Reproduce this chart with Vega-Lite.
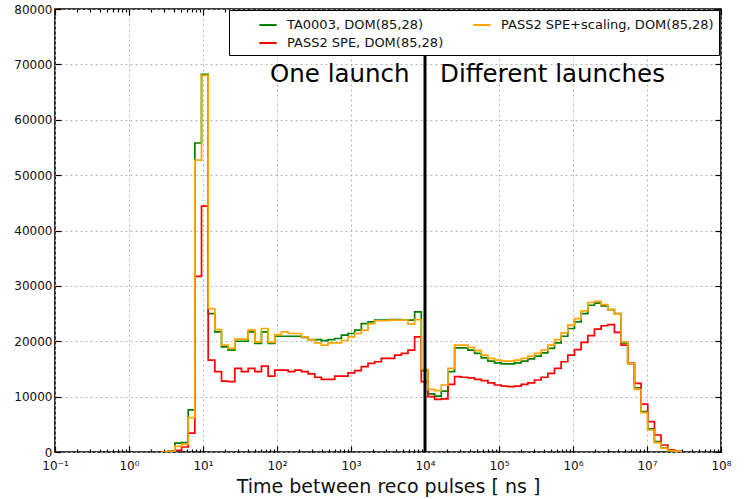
{
  "$schema": "https://vega.github.io/schema/vega-lite/v6.json",
  "width": 666,
  "height": 443,
  "autosize": {"type": "none"},
  "padding": {"left": 55, "top": 9, "right": 34, "bottom": 47},
  "background": "white",
  "config": {
    "view": {"stroke": "black", "strokeWidth": 1.6},
    "font": "DejaVu Sans",
    "axis": {"domain": false, "labelFont": "DejaVu Sans", "labelColor": "#111", "tickColor": "black", "tickWidth": 1.2, "gridColor": "#b5b5b5", "gridDash": [2, 3], "gridWidth": 1}
  },
  "datasets": {
    "h": [
      {"e": 2.754, "g": 0, "o": 0, "r": 0},
      {"e": 3.388, "g": 150, "o": 100, "r": 50},
      {"e": 4.169, "g": 1600, "o": 1000, "r": 300},
      {"e": 5.129, "g": 1700, "o": 1400, "r": 900},
      {"e": 6.310, "g": 7600, "o": 6200, "r": 3400},
      {"e": 7.762, "g": 55800, "o": 52700, "r": 31700},
      {"e": 9.550, "g": 68200, "o": 68000, "r": 44400},
      {"e": 11.75, "g": 25000, "o": 25900, "r": 16600},
      {"e": 14.45, "g": 21700, "o": 22100, "r": 14500},
      {"e": 17.78, "g": 19000, "o": 19300, "r": 12800},
      {"e": 21.88, "g": 18400, "o": 18700, "r": 12700},
      {"e": 26.92, "g": 20000, "o": 20400, "r": 15100},
      {"e": 33.11, "g": 20000, "o": 20400, "r": 14500},
      {"e": 40.74, "g": 21700, "o": 22000, "r": 15100},
      {"e": 50.12, "g": 19600, "o": 19900, "r": 14500},
      {"e": 61.66, "g": 21700, "o": 22300, "r": 15500},
      {"e": 75.86, "g": 19600, "o": 19800, "r": 13700},
      {"e": 93.33, "g": 20900, "o": 21200, "r": 14800},
      {"e": 114.8, "g": 20900, "o": 21700, "r": 14800},
      {"e": 141.3, "g": 20900, "o": 21400, "r": 14500},
      {"e": 173.8, "g": 20900, "o": 21400, "r": 14800},
      {"e": 213.8, "g": 20700, "o": 20800, "r": 14500},
      {"e": 263.0, "g": 20300, "o": 20300, "r": 14100},
      {"e": 323.6, "g": 20300, "o": 19700, "r": 13500},
      {"e": 398.1, "g": 20100, "o": 19300, "r": 13100},
      {"e": 489.8, "g": 20300, "o": 19700, "r": 13100},
      {"e": 602.6, "g": 20500, "o": 19700, "r": 13700},
      {"e": 741.3, "g": 21100, "o": 20100, "r": 13700},
      {"e": 912.0, "g": 21400, "o": 20800, "r": 14300},
      {"e": 1122, "g": 22000, "o": 21400, "r": 14700},
      {"e": 1380, "g": 23200, "o": 22000, "r": 15400},
      {"e": 1698, "g": 23500, "o": 23200, "r": 16000},
      {"e": 2089, "g": 23800, "o": 23700, "r": 16300},
      {"e": 2570, "g": 23800, "o": 23700, "r": 16900},
      {"e": 3162, "g": 23900, "o": 23800, "r": 16900},
      {"e": 3890, "g": 23900, "o": 23800, "r": 17500},
      {"e": 4786, "g": 23800, "o": 23800, "r": 17800},
      {"e": 5888, "g": 23800, "o": 23100, "r": 18400},
      {"e": 7244, "g": 25300, "o": 23900, "r": 20800},
      {"e": 8913, "g": 14700, "o": 14900, "r": 12700},
      {"e": 10965, "g": 10500, "o": 11300, "r": 10000},
      {"e": 13490, "g": 10100, "o": 11100, "r": 9500},
      {"e": 16596, "g": 11000, "o": 12100, "r": 9600},
      {"e": 20417, "g": 14500, "o": 15100, "r": 12200},
      {"e": 25119, "g": 18800, "o": 19300, "r": 13600},
      {"e": 30903, "g": 18800, "o": 19300, "r": 13500},
      {"e": 38019, "g": 18400, "o": 18900, "r": 13400},
      {"e": 46774, "g": 17800, "o": 18300, "r": 13100},
      {"e": 57544, "g": 17000, "o": 17500, "r": 12900},
      {"e": 70795, "g": 16400, "o": 16900, "r": 12500},
      {"e": 87096, "g": 16100, "o": 16600, "r": 12100},
      {"e": 107152, "g": 15900, "o": 16400, "r": 11900},
      {"e": 131826, "g": 15900, "o": 16400, "r": 11800},
      {"e": 162181, "g": 16100, "o": 16600, "r": 11900},
      {"e": 199526, "g": 16400, "o": 16900, "r": 12200},
      {"e": 245471, "g": 16800, "o": 17300, "r": 12500},
      {"e": 301995, "g": 17300, "o": 17800, "r": 13000},
      {"e": 371535, "g": 17900, "o": 18400, "r": 13500},
      {"e": 457088, "g": 18700, "o": 19300, "r": 14200},
      {"e": 562341, "g": 19700, "o": 20300, "r": 15100},
      {"e": 691831, "g": 20900, "o": 21500, "r": 16300},
      {"e": 851138, "g": 22300, "o": 22900, "r": 17500},
      {"e": 1047129, "g": 23500, "o": 24100, "r": 18500},
      {"e": 1288250, "g": 25000, "o": 25500, "r": 19800},
      {"e": 1584893, "g": 26500, "o": 27000, "r": 21000},
      {"e": 1949845, "g": 26900, "o": 27200, "r": 22200},
      {"e": 2398833, "g": 26400, "o": 26600, "r": 22800},
      {"e": 2951209, "g": 25700, "o": 25700, "r": 23000},
      {"e": 3630781, "g": 25000, "o": 25000, "r": 21600},
      {"e": 4466836, "g": 19700, "o": 19900, "r": 19300},
      {"e": 5495409, "g": 16000, "o": 16000, "r": 16000},
      {"e": 6760830, "g": 11600, "o": 11300, "r": 12400},
      {"e": 8317638, "g": 7300, "o": 7100, "r": 8660},
      {"e": 10232930, "g": 4200, "o": 4000, "r": 5470},
      {"e": 12589254, "g": 1900, "o": 1700, "r": 3070},
      {"e": 15488166, "g": 750, "o": 700, "r": 1260},
      {"e": 19054607, "g": 250, "o": 250, "r": 400},
      {"e": 23442288, "g": 60, "o": 60, "r": 120},
      {"e": 28840315, "g": 0, "o": 0, "r": 0}
    ],
    "marks": [
      {"t": "One launch", "x": 80.4, "y": 68000},
      {"t": "Different launches", "x": 15960, "y": 68000}
    ],
    "split": [{"x": 10000}]
  },
  "resolve": {"axis": {"x": "independent", "y": "independent"}},
  "layer": [
    {
      "data": {"name": "h"},
      "transform": [{"fold": ["g", "o", "r"], "as": ["s", "v"]}, {"filter": "datum.s == 'g'"}],
      "mark": {"type": "line", "interpolate": "step-after", "strokeWidth": 1.7, "clip": true},
      "encoding": {
        "x": {"field": "e", "type": "quantitative", "scale": {"type": "log", "domain": [0.1, 100000000], "nice": false},
          "axis": {"orient": "bottom", "values": [0.1, 1, 10, 100, 1000, 10000, 100000, 1000000, 10000000, 100000000],
            "labelExpr": "'10' + ['⁻¹','⁰','¹','²','³','⁴','⁵','⁶','⁷','⁸'][round(log(datum.value)/LN10) + 1]",
            "tickSize": -6, "labelPadding": 14, "labelFontSize": 12, "grid": true, "labelFlush": false,
            "title": "Time between reco pulses [ ns ]", "titleFontSize": 19, "titleFontWeight": "normal", "titlePadding": 6, "titleColor": "#111"}},
        "y": {"field": "v", "type": "quantitative", "scale": {"domain": [0, 80000], "nice": false},
          "axis": {"orient": "left", "values": [0, 10000, 20000, 30000, 40000, 50000, 60000, 70000, 80000], "format": "d",
            "tickSize": -6, "labelPadding": 9, "labelFontSize": 12, "grid": true, "title": null}},
        "color": {"field": "s", "type": "nominal",
          "scale": {"domain": ["g", "r", "o"], "range": ["#008000", "#ff0000", "#ffa500"]},
          "legend": {"orient": "none", "legendX": 174, "legendY": 1, "columns": 2, "title": null,
            "labelExpr": "datum.label == 'g' ? 'TA0003, DOM(85,28)' : datum.label == 'o' ? 'PASS2 SPE+scaling, DOM(85,28)' : 'PASS2 SPE, DOM(85,28)'",
            "symbolType": "stroke", "symbolStrokeWidth": 2, "symbolSize": 300, "symbolOffset": 24, "labelFontSize": 13, "labelColor": "#111", "labelLimit": 400,
            "strokeColor": "black", "fillColor": "white", "padding": 5, "columnPadding": 4, "rowPadding": 1, "labelOffset": 9, "cornerRadius": 0}}
      }
    },
    {
      "data": {"name": "h"},
      "transform": [{"fold": ["g", "o", "r"], "as": ["s", "v"]}, {"filter": "datum.s == 'r'"}],
      "mark": {"type": "line", "interpolate": "step-after", "strokeWidth": 1.7, "clip": true},
      "encoding": {
        "x": {"field": "e", "type": "quantitative",
          "axis": {"orient": "top", "values": [0.1, 1, 10, 100, 1000, 10000, 100000, 1000000, 10000000, 100000000], "labels": false, "tickSize": -6, "grid": false, "title": null}},
        "y": {"field": "v", "type": "quantitative",
          "axis": {"orient": "right", "values": [0, 10000, 20000, 30000, 40000, 50000, 60000, 70000, 80000], "labels": false, "tickSize": -6, "grid": false, "title": null}},
        "color": {"field": "s", "type": "nominal"}
      }
    },
    {
      "data": {"name": "h"},
      "transform": [{"fold": ["g", "o", "r"], "as": ["s", "v"]}, {"filter": "datum.s == 'o'"}],
      "mark": {"type": "line", "interpolate": "step-after", "strokeWidth": 1.7, "clip": true},
      "encoding": {
        "x": {"field": "e", "type": "quantitative",
          "axis": {"orient": "bottom", "values": [0.2,0.3,0.4,0.5,0.6,0.7,0.8,0.9,2,3,4,5,6,7,8,9,20,30,40,50,60,70,80,90,200,300,400,500,600,700,800,900,2000,3000,4000,5000,6000,7000,8000,9000,20000,30000,40000,50000,60000,70000,80000,90000,200000,300000,400000,500000,600000,700000,800000,900000,2000000,3000000,4000000,5000000,6000000,7000000,8000000,9000000,20000000,30000000,40000000,50000000,60000000,70000000,80000000,90000000],
            "labels": false, "tickSize": -3, "grid": false, "title": null}},
        "y": {"field": "v", "type": "quantitative", "axis": null},
        "color": {"field": "s", "type": "nominal"}
      }
    },
    {
      "data": {"name": "split"},
      "mark": {"type": "rule", "color": "black", "strokeWidth": 3},
      "encoding": {
        "x": {"field": "x", "type": "quantitative",
          "axis": {"orient": "top", "values": [0.2,0.3,0.4,0.5,0.6,0.7,0.8,0.9,2,3,4,5,6,7,8,9,20,30,40,50,60,70,80,90,200,300,400,500,600,700,800,900,2000,3000,4000,5000,6000,7000,8000,9000,20000,30000,40000,50000,60000,70000,80000,90000,200000,300000,400000,500000,600000,700000,800000,900000,2000000,3000000,4000000,5000000,6000000,7000000,8000000,9000000,20000000,30000000,40000000,50000000,60000000,70000000,80000000,90000000],
            "labels": false, "tickSize": -3, "grid": false, "title": null}}
      }
    },
    {
      "data": {"name": "marks"},
      "mark": {"type": "text", "align": "left", "baseline": "middle", "fontSize": 24.5, "font": "DejaVu Sans", "color": "black"},
      "encoding": {
        "x": {"field": "x", "type": "quantitative", "axis": null},
        "y": {"field": "y", "type": "quantitative", "axis": null},
        "text": {"field": "t"}
      }
    }
  ]
}
